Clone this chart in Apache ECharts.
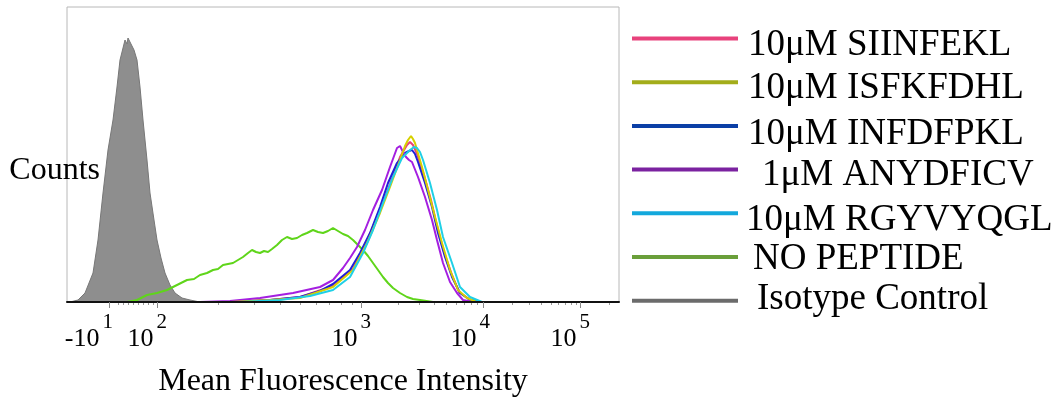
<!DOCTYPE html>
<html>
<head>
<meta charset="utf-8">
<script src="https://cdn.jsdelivr.net/npm/echarts@6/dist/echarts.min.js"></script>
<style>html,body{margin:0;padding:0;background:#fff;}#c{width:1060px;height:398px;}</style>
</head>
<body>
<div id="c"></div>
<script>
// x values are display channels of the biexponential fluorescence axis; y values are counts
var seriesNames = ['10\u03bcM SIINFEKL','10\u03bcM ISFKFDHL','10\u03bcM INFDFPKL','1\u03bcM ANYDFICV','10\u03bcM RGYVYQGL','NO PEPTIDE','Isotype Control'];
var tickChannels = [42, 90, 294, 416, 513];
var tickBase = ['-10', '10', '10', '10', '10'];
var tickExp = ['1', '2', '3', '4', '5'];
var minorChannels = [51,56,61,66,71,76,81,86,151,187,213,233,249,262,274,285,331,352,367,379,389,397,404,410,445,462,474,484,491,498,504,509,542];

var isotype = [[0,0],[3,0],[11,2],[18,9],[26,29],[31,62],[36,109],[41,152],[46,182],[50,215],[53,242],[56,254],[58,262],[60,258],[61,264],[63,260],[65,262],[67,252],[70,242],[73,215],[76,182],[80,142],[83,109],[87,82],[90,62],[94,44],[98,29],[103,17],[108,9],[115,4],[123,2],[133,0],[552,0]];
var noPeptide = [[0,0],[60,0],[70,2],[80,7],[90,9],[100,12],[110,17],[120,22],[127,23],[133,27],[140,29],[146,32],[151,33],[156,37],[161,38],[166,39],[171,42],[176,45],[181,49],[185,52],[189,50],[193,49],[197,51],[201,50],[205,53],[210,57],[215,62],[220,65],[225,63],[230,64],[235,67],[240,69],[246,72],[251,70],[256,69],[261,71],[266,74],[271,71],[276,68],[281,66],[286,62],[291,57],[296,52],[301,46],[306,39],[311,32],[316,25],[321,19],[326,14],[333,9],[340,5],[346,3],[353,2],[366,0],[552,0]];
var siinfekl = [[0,0],[163,0],[203,2],[233,5],[266,16],[286,33],[300,61],[313,92],[323,118],[333,145],[340,157],[343,160],[346,157],[350,148],[357,127],[364,102],[370,76],[377,50],[385,27],[392,10],[402,3],[412,0],[552,0]];
var isfkfdhl = [[0,0],[163,0],[203,2],[233,4],[266,15],[286,32],[300,59],[313,89],[323,115],[333,142],[338,156],[341,162],[344,166],[346,163],[348,159],[355,135],[361,112],[368,85],[375,59],[383,32],[391,12],[400,4],[410,0],[552,0]];
var infdfpkl = [[0,0],[163,0],[203,2],[233,5],[253,11],[266,18],[283,32],[293,49],[303,69],[313,95],[321,119],[330,139],[338,149],[342,151],[345,152],[348,148],[351,140],[358,119],[365,95],[371,69],[378,45],[385,25],[393,9],[403,2],[413,0],[552,0]];
var anydficv = [[0,0],[133,0],[163,1],[193,4],[226,9],[253,15],[266,22],[276,34],[283,44],[290,55],[298,72],[306,92],[315,112],[323,135],[330,154],[333,156],[336,150],[339,145],[342,142],[345,140],[351,125],[358,105],[365,82],[370,62],[376,39],[383,20],[390,9],[396,2],[406,0],[552,0]];
var rgyvyqgl = [[0,0],[173,0],[213,2],[243,6],[266,12],[283,25],[296,49],[306,72],[316,99],[326,125],[335,144],[343,152],[347,155],[350,154],[353,150],[356,142],[363,119],[370,92],[376,65],[385,39],[393,15],[403,5],[415,0],[552,0]];

// styling
var curveColors = ['#e8427c', '#d6d000', '#1f1fd8', '#a41fe0', '#1fd0e6', '#5fd51a', '#7a7a7a'];
var legendColors = ['#e8427c', '#a3ad1a', '#0b3fa6', '#7b22a0', '#13a8dc', '#6a9f3a', '#6b6b6b'];
var legendIndent = [5, 5, 5, 19, 3, 10, 14];
var legendDrop = [6.5, 6.5, 8, 5.5, 7, 2.5, -1];
var labelShift = [4, 10, 10, 7, 10];

var serif = 'Liberation Serif';
var labelChannels = tickChannels.map(function (v, i) { return v + labelShift[i]; });
var chart = echarts.init(document.getElementById('c'), null, {renderer: 'canvas'});

function line(idx, data, z) {
  return {
    name: seriesNames[idx], type: 'line', data: data, showSymbol: false, symbol: 'none',
    xAxisIndex: 0, yAxisIndex: 0, z: z,
    lineStyle: {color: curveColors[idx], width: 2}, itemStyle: {color: curveColors[idx]},
    animation: false
  };
}

var series = [
  {
    name: seriesNames[6], type: 'line', data: isotype, showSymbol: false, symbol: 'none', z: 1,
    lineStyle: {color: '#777', width: 1}, itemStyle: {color: '#777'},
    areaStyle: {color: '#8e8e8e', opacity: 1}, animation: false
  },
  line(5, noPeptide, 2),
  line(0, siinfekl, 3),
  line(2, infdfpkl, 4),
  line(3, anydficv, 5),
  line(1, isfkfdhl, 6),
  line(4, rgyvyqgl, 7)
];

var legendData = seriesNames.map(function (n, i) {
  return {name: n, itemStyle: {color: legendColors[i]}};
});
var legendRich = {};
seriesNames.forEach(function (n, i) {
  var d = legendDrop[i];
  legendRich['t' + i] = {
    fontFamily: serif, fontSize: 37, color: '#000', lineHeight: 27.7,
    padding: [8 + d, 0, 8 - d, legendIndent[i]]
  };
});

chart.setOption({
  animation: false,
  backgroundColor: '#fff',
  grid: {left: 67, top: 7, right: 441, bottom: 96, show: true, borderColor: '#b8b8b8', borderWidth: 1,
         containLabel: false, outerBoundsMode: 'none'},
  legend: {
    orient: 'vertical', left: 632, top: 12, itemWidth: 106, itemHeight: 4, itemGap: -9.3, padding: 0,
    icon: 'rect', data: legendData, selectedMode: false,
    formatter: function (name) {
      var i = seriesNames.indexOf(name);
      return '{t' + i + '|' + name + '}';
    },
    textStyle: {fontFamily: serif, fontSize: 37, color: '#000', rich: legendRich}
  },
  xAxis: [{
    type: 'value', min: 0, max: 552, position: 'bottom', z: 20,
    name: 'Mean Fluorescence Intensity', nameLocation: 'middle', nameGap: 64, nameMoveOverlap: false,
    nameTextStyle: {fontFamily: serif, fontSize: 32, color: '#000'},
    axisLine: {show: true, onZero: false, lineStyle: {color: '#111', width: 2}},
    axisTick: {show: true, customValues: tickChannels, length: 6, lineStyle: {color: '#888', width: 1}},
    axisLabel: {
      show: true, customValues: labelChannels, align: 'right', margin: 15,
      formatter: function (v) {
        var i = labelChannels.indexOf(Math.round(v));
        if (i < 0) { return ''; }
        return '{b|' + tickBase[i] + '}{s|' + tickExp[i] + '}';
      },
      rich: {
        b: {fontFamily: serif, fontSize: 26, color: '#000', lineHeight: 44},
        s: {fontFamily: serif, fontSize: 21, color: '#000', lineHeight: 10, padding: [0, 0, 34, 3]}
      }
    },
    splitLine: {show: false}
  }, {
    type: 'value', min: 0, max: 552, position: 'bottom', gridIndex: 0,
    axisLine: {show: false}, axisLabel: {show: false}, splitLine: {show: false},
    axisTick: {show: true, customValues: minorChannels, length: 3, lineStyle: {color: '#999', width: 1}}
  }],
  yAxis: {
    type: 'value', min: 0, max: 295,
    name: 'Counts', nameLocation: 'middle', nameRotate: 0, nameGap: -33,
    nameTextStyle: {fontFamily: serif, fontSize: 32, color: '#000', verticalAlign: 'top'},
    axisLine: {show: false}, axisTick: {show: false}, axisLabel: {show: false}, splitLine: {show: false}
  },
  series: series
});
</script>
</body>
</html>
